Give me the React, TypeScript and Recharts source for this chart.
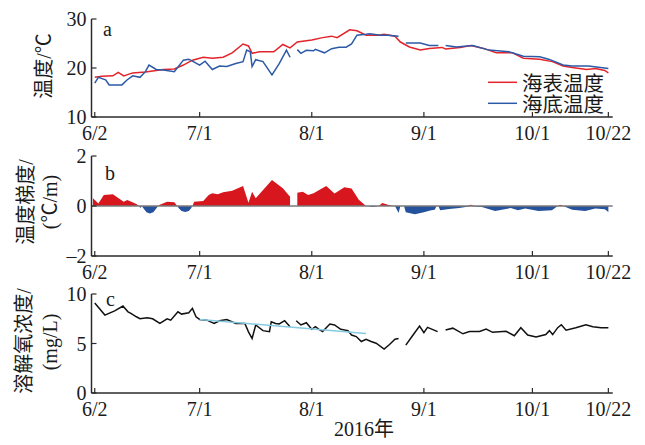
import React from 'react';
import { LineChart, ComposedChart, Line, Area, XAxis, YAxis, ReferenceLine } from 'recharts';

type Pt = [number, number | null];

// ---- axis ticks / labels ----
const dayTicks = [0, 29, 60, 91, 121, 142];
const dayTickLabels = ['6/2', '7/1', '8/1', '9/1', '10/1', '10/22'];
const tempTicks = [10, 20, 30];
const gradTicks = [-2, 0, 2];
const doTicks = [0, 5, 10];
const seriesNames = ['海表温度', '海底温度'];
const yearLabel = '2016年';
const panelLetters = ['a', 'b', 'c'];

// ---- data: [day since 6/2, value] ----
const surfaceTemp: Pt[] = [
  [0, 18.1], [2, 18.3], [5, 18.4], [6.5, 19.1], [8, 18.4], [10.5, 19.0], [14, 19.2], [16, 19.4],
  [19, 19.7], [22, 19.8], [24.5, 20.6], [27, 21.6], [30, 22.2], [32.5, 22.0], [35.5, 22.2], [38, 23.1],
  [41, 24.9], [42.5, 24.5], [43.5, 23.0], [45.5, 23.3], [49.5, 23.3], [52, 24.8], [54, 24.1], [56, 25.3],
  [60, 25.7], [63, 26.2], [65.5, 26.5], [67, 26.2], [70.5, 27.8], [72.5, 27.6], [75, 26.7], [78.5, 26.7],
  [80, 26.9], [83, 26.5], [84.5, 25.3], [87, 24.3], [90, 23.7], [92.5, 24.0], [96, 24.2], [97, 23.9],
  [101, 24.2], [104, 24.6], [107.5, 24.0], [111, 23.1], [115.5, 23.1], [118.5, 22.0], [123, 21.8],
  [126.5, 21.3], [129.5, 20.4], [132, 20.1], [136, 19.7], [138.5, 19.9], [141, 19.5], [142, 19.0],
];

const bottomTemp: Pt[] = [
  [0, 16.9], [1, 18.1], [3, 17.6], [4, 16.55], [7.5, 16.55], [9, 17.6], [10.5, 18.4], [12.5, 18.1],
  [14, 19.25], [15, 20.6], [17, 19.7], [19, 19.6], [22, 19.25], [24.5, 21.6], [26, 21.8], [27, 21.4],
  [29, 20.6], [30.5, 21.4], [32.5, 19.7], [34.5, 20.4], [36.5, 20.3], [39, 20.9], [41, 21.3], [42, 23.65],
  [43, 23.3], [43.5, 20.3], [44.5, 21.7], [46.5, 21.3], [49, 18.6], [51, 20.9], [53, 23.65], [54, 22.2],
  [55, null], [56, 23.75], [57, 23.0], [58.5, 23.6], [60.5, 23.5], [61, 23.8], [63.5, 23.1], [65.5, 23.95],
  [67.5, 24.25], [69.5, 24.25], [71, 24.9], [72.5, 26.7], [75, 26.9], [76, 27.0], [79, 26.7], [81, 26.7],
  [84, 26.5], [85, null], [86, 25.1], [90, 25.1], [92.5, 24.6], [95, 24.6], [96, null], [97, 24.6],
  [100, 24.3], [104.5, 24.6], [109, 23.65], [114.5, 23.3], [118.5, 22.4], [123, 22.3], [125.5, 21.8],
  [129.5, 20.6], [132, 20.4], [136.5, 20.4], [142, 19.9],
];

const tempGradient: Pt[] = [
  [-0.5, 0.31], [1, 0.1], [2.5, 0.44], [5, 0.47], [6, 0.37], [8, 0.17], [9, 0.24], [11.5, 0.08],
  [12.2, 0], [12.6, -0.08], [13, 0], [13.5, -0.1], [14.3, -0.25], [15.2, -0.3], [16.2, -0.25], [17, -0.1],
  [17.5, 0], [18, 0.05], [20, 0.17], [22, 0.15], [22.8, 0], [23.3, -0.1], [24, -0.2], [25, -0.24],
  [26, -0.2], [26.6, -0.1], [27, 0], [27.5, 0.17], [30, 0.2], [31.5, 0.44], [32.5, 0.51], [34, 0.47],
  [35.5, 0.55], [38, 0.61], [41, 0.8], [42.5, 0.13], [43.5, 0.57], [44.5, 0.31], [49, 1.04], [52, 0.71],
  [54, 0.37], [55, null], [56, 0.53], [57.5, 0.57], [59, 0.44], [60.5, 0.51], [64, 0.8], [66.3, 0.5],
  [69, 0.75], [71, 0.7], [73, 0.25], [75, 0], [77, -0.04], [78.5, 0], [79.5, 0.12], [81.5, 0.03],
  [83, 0], [84, -0.28], [84.5, 0], [85.5, 0], [86, -0.25], [88.5, -0.33], [91, -0.25], [93, -0.17],
  [94, -0.15], [94.5, 0], [95, 0], [95.5, -0.17], [98, -0.12], [100.8, -0.08], [103, -0.03], [104, 0.05],
  [105, -0.02], [107, -0.04], [110.7, -0.2], [115, -0.08], [117, -0.17], [119, -0.1], [122.7, -0.2],
  [126.4, -0.17], [128, 0], [128.7, 0.05], [129.5, 0], [132, -0.15], [135.6, -0.2], [138.4, -0.1],
  [141, -0.13], [142, -0.24],
];

const dissolvedOxygen: Pt[] = [
  [0, 9.1], [2.8, 7.87], [5.5, 8.3], [7.8, 8.78], [9.2, 8.2], [10, 8.04], [11.5, 7.7], [12.5, 7.5],
  [14.5, 7.6], [16, 7.5], [18, 7.03], [20, 7.5], [21, 7.36], [23, 8.2], [24, 7.97], [26, 8.1], [27, 8.55],
  [28, 7.7], [29, 7.43], [31, 7.36], [33, 7.03], [34.5, 7.3], [36.5, 7.43], [39, 7.03], [41.5, 7.03],
  [42.5, 6.18], [43.5, 5.5], [44.5, 6.87], [46.5, 6.3], [48.3, 6.2], [48.8, 7.2], [50, 7.03], [51, 6.97],
  [52.5, 7.3], [54, 6.7], [55, null], [55.7, 7.3], [57, 6.87], [58.5, 7.1], [60, 6.43], [61, 6.7],
  [62, 6.43], [63, 6.2], [65, 6.97], [66.3, 6.87], [68, 6.43], [70, 6.3], [71, 5.86], [72.3, 5.7],
  [73.7, 5.2], [75, 5.43], [76.4, 5.2], [77.8, 5.03], [80, 4.43], [81.5, 4.9], [83, 5.43], [84, 5.5],
  [85, null], [86, 4.83], [88, 5.86], [89.8, 6.77], [91, 6.1], [92, 6.63], [94.8, 6.2], [96, null],
  [97, 6.37], [99, 6.55], [101.8, 5.98], [103.6, 6.2], [106.4, 6.22], [108.2, 6.45], [110, 6.13],
  [113.7, 6.23], [116, 5.78], [117.8, 6.6], [119.7, 5.85], [122, 5.65], [124.7, 5.9], [125.7, 6.3],
  [126.6, 5.9], [128, 6.6], [129, 6.9], [130.3, 6.35], [133, 6.6], [135.8, 6.9], [137.7, 6.7],
  [140, 6.6], [142, 6.6],
];

const oxygenTrend: Pt[] = [[29, 7.43], [75, 6.02]];

// ---- helpers ----
const toRows = (pts: Pt[]) => pts.map(([d, v]) => ({ d, v }));
const gradRows = tempGradient.map(([d, v]) => ({
  d,
  pos: v === null ? null : v >= 0 ? v : 0,
  neg: v === null ? null : v < 0 ? v : 0,
}));

const SERIF = '"Liberation Serif", "DejaVu Serif", serif';
const MIXED = '"Liberation Serif", "Noto Sans CJK SC", serif';
const CJK = '"Noto Sans CJK SC", sans-serif';
const AXIS = '#2b2b2b';
const TXT = '#1a1a1a';
const RED = '#e3242b';
const BLUE = '#2c5aa6';
const RED_FILL = '#d7161e';
const BLUE_FILL = '#25529c';
const X_DOMAIN: [number, number] = [-0.9, 143.2];
const W = 645;

const serifStyle = { fontFamily: SERIF, fontWeight: 400 };
const mixedStyle = { fontFamily: MIXED, fontWeight: 400 };
const cjkStyle = { fontFamily: CJK, fontWeight: 400 };

const XTick = (props: any) => {
  const { x, y, payload } = props;
  const i = dayTicks.indexOf(payload.value);
  return (
    <g>
      <line x1={x} x2={x} y1={y} y2={y - 5} stroke={AXIS} strokeWidth={1.2} />
      <text x={x} y={y + 23} textAnchor="middle" style={serifStyle} fontSize={20} fill={TXT}>
        {dayTickLabels[i]}
      </text>
    </g>
  );
};

const YTick = (props: any) => {
  const { x, y, payload } = props;
  const v = payload.value as number;
  const label = v < 0 ? '\u2013' + Math.abs(v) : String(v);
  return (
    <g>
      <line x1={x} x2={x + 5} y1={y} y2={y} stroke={AXIS} strokeWidth={1.2} />
      <text x={x - 5} y={y} dy="0.35em" textAnchor="end" style={serifStyle} fontSize={20} fill={TXT}>
        {label}
      </text>
    </g>
  );
};

const axisLine = { stroke: AXIS, strokeWidth: 1.5 };

function commonAxes(yDomain: [number, number], yTicks: number[]) {
  return [
    <XAxis
      key="xb"
      dataKey="d"
      type="number"
      domain={X_DOMAIN}
      ticks={dayTicks}
      interval={0}
      tick={(p: any) => <XTick {...p} />}
      tickLine={false}
      tickSize={0}
      tickMargin={0}
      height={30}
      axisLine={axisLine}
      allowDataOverflow
    />,
    <XAxis
      key="xt"
      xAxisId="top"
      orientation="top"
      type="number"
      domain={X_DOMAIN}
      height={0}
      tick={false}
      tickLine={false}
      axisLine={axisLine}
    />,
    <YAxis
      key="yl"
      type="number"
      domain={yDomain}
      ticks={yTicks}
      interval={0}
      width={91.5}
      tick={(p: any) => <YTick {...p} />}
      tickLine={false}
      tickSize={0}
      tickMargin={0}
      axisLine={axisLine}
      allowDataOverflow
    />,
    <YAxis
      key="yr"
      yAxisId="right"
      orientation="right"
      type="number"
      domain={yDomain}
      width={0}
      tick={false}
      tickLine={false}
      axisLine={axisLine}
    />,
  ];
}

export default function App() {
  return (
    <div style={{ position: 'absolute', left: 0, top: 0, width: W, height: 445, background: '#fff' }}>
      {/* panel a */}
      <div style={{ position: 'absolute', left: 0, top: 0 }}>
        <LineChart width={W} height={150} margin={{ top: 19, right: 32.3, left: 0, bottom: 3 }}>
          {commonAxes([10, 30], tempTicks)}
          <Line data={toRows(surfaceTemp)} dataKey="v" name={seriesNames[0]} stroke={RED} strokeWidth={1.5}
            dot={false} isAnimationActive={false} connectNulls={false} />
          <Line data={toRows(bottomTemp)} dataKey="v" name={seriesNames[1]} stroke={BLUE} strokeWidth={1.5}
            dot={false} isAnimationActive={false} connectNulls={false} />
        </LineChart>
      </div>
      {/* panel b */}
      <div style={{ position: 'absolute', left: 0, top: 137 }}>
        <ComposedChart width={W} height={150} data={gradRows} margin={{ top: 19, right: 32.3, left: 0, bottom: 1 }}>
          {commonAxes([-2, 2], gradTicks)}
          <Area dataKey="pos" type="linear" baseValue={0} stroke="none" fill={RED_FILL} fillOpacity={1}
            isAnimationActive={false} connectNulls={false} dot={false} activeDot={false} />
          <Area dataKey="neg" type="linear" baseValue={0} stroke="none" fill={BLUE_FILL} fillOpacity={1}
            isAnimationActive={false} connectNulls={false} dot={false} activeDot={false} />
          <ReferenceLine y={0} stroke="#7a7a7a" strokeWidth={1.5} />
        </ComposedChart>
      </div>
      {/* panel c */}
      <div style={{ position: 'absolute', left: 0, top: 275 }}>
        <LineChart width={W} height={150} margin={{ top: 19, right: 32.3, left: 0, bottom: 2 }}>
          {commonAxes([0, 10], doTicks)}
          <Line data={toRows(dissolvedOxygen)} dataKey="v" stroke="#111" strokeWidth={1.5}
            dot={false} isAnimationActive={false} connectNulls={false} />
          <Line data={toRows(oxygenTrend)} dataKey="v" stroke="#86cbe3" strokeWidth={1.5}
            dot={false} isAnimationActive={false} />
        </LineChart>
      </div>
      {/* titles / legend overlay */}
      <svg width={W} height={445} style={{ position: 'absolute', left: 0, top: 0, pointerEvents: 'none' }}>
        <text transform="translate(44,66) rotate(-90)" textAnchor="middle" dominantBaseline="central"
          style={mixedStyle} fontSize={20} fill={TXT}>温度/℃</text>
        <text transform="translate(26,202) rotate(-90)" textAnchor="middle" dominantBaseline="central"
          style={mixedStyle} fontSize={20} fill={TXT}>温度梯度/</text>
        <text transform="translate(50,202) rotate(-90)" textAnchor="middle" dominantBaseline="central"
          style={mixedStyle} fontSize={20} fill={TXT}>(℃/m)</text>
        <text transform="translate(24,341) rotate(-90)" textAnchor="middle" dominantBaseline="central"
          style={mixedStyle} fontSize={20} fill={TXT}>溶解氧浓度/</text>
        <text transform="translate(50,342) rotate(-90)" textAnchor="middle" dominantBaseline="central"
          style={mixedStyle} fontSize={20} fill={TXT}>(mg/L)</text>

        <text x={103} y={35.5} style={serifStyle} fontSize={20} fill={TXT}>{panelLetters[0]}</text>
        <text x={105} y={180} style={serifStyle} fontSize={20} fill={TXT}>{panelLetters[1]}</text>
        <text x={106} y={306} style={serifStyle} fontSize={20} fill={TXT}>{panelLetters[2]}</text>

        <line x1={488} x2={517} y1={82.3} y2={82.3} stroke={RED} strokeWidth={1.5} />
        <text x={522} y={82.3} dominantBaseline="central" style={cjkStyle} fontSize={20.5} fill={TXT}>{seriesNames[0]}</text>
        <line x1={488} x2={517} y1={103.3} y2={103.3} stroke={BLUE} strokeWidth={1.5} />
        <text x={522} y={103.3} dominantBaseline="central" style={cjkStyle} fontSize={20.5} fill={TXT}>{seriesNames[1]}</text>

        <text x={334} y={435.5} style={mixedStyle} fontSize={20} fill={TXT}>{yearLabel}</text>
      </svg>
    </div>
  );
}
